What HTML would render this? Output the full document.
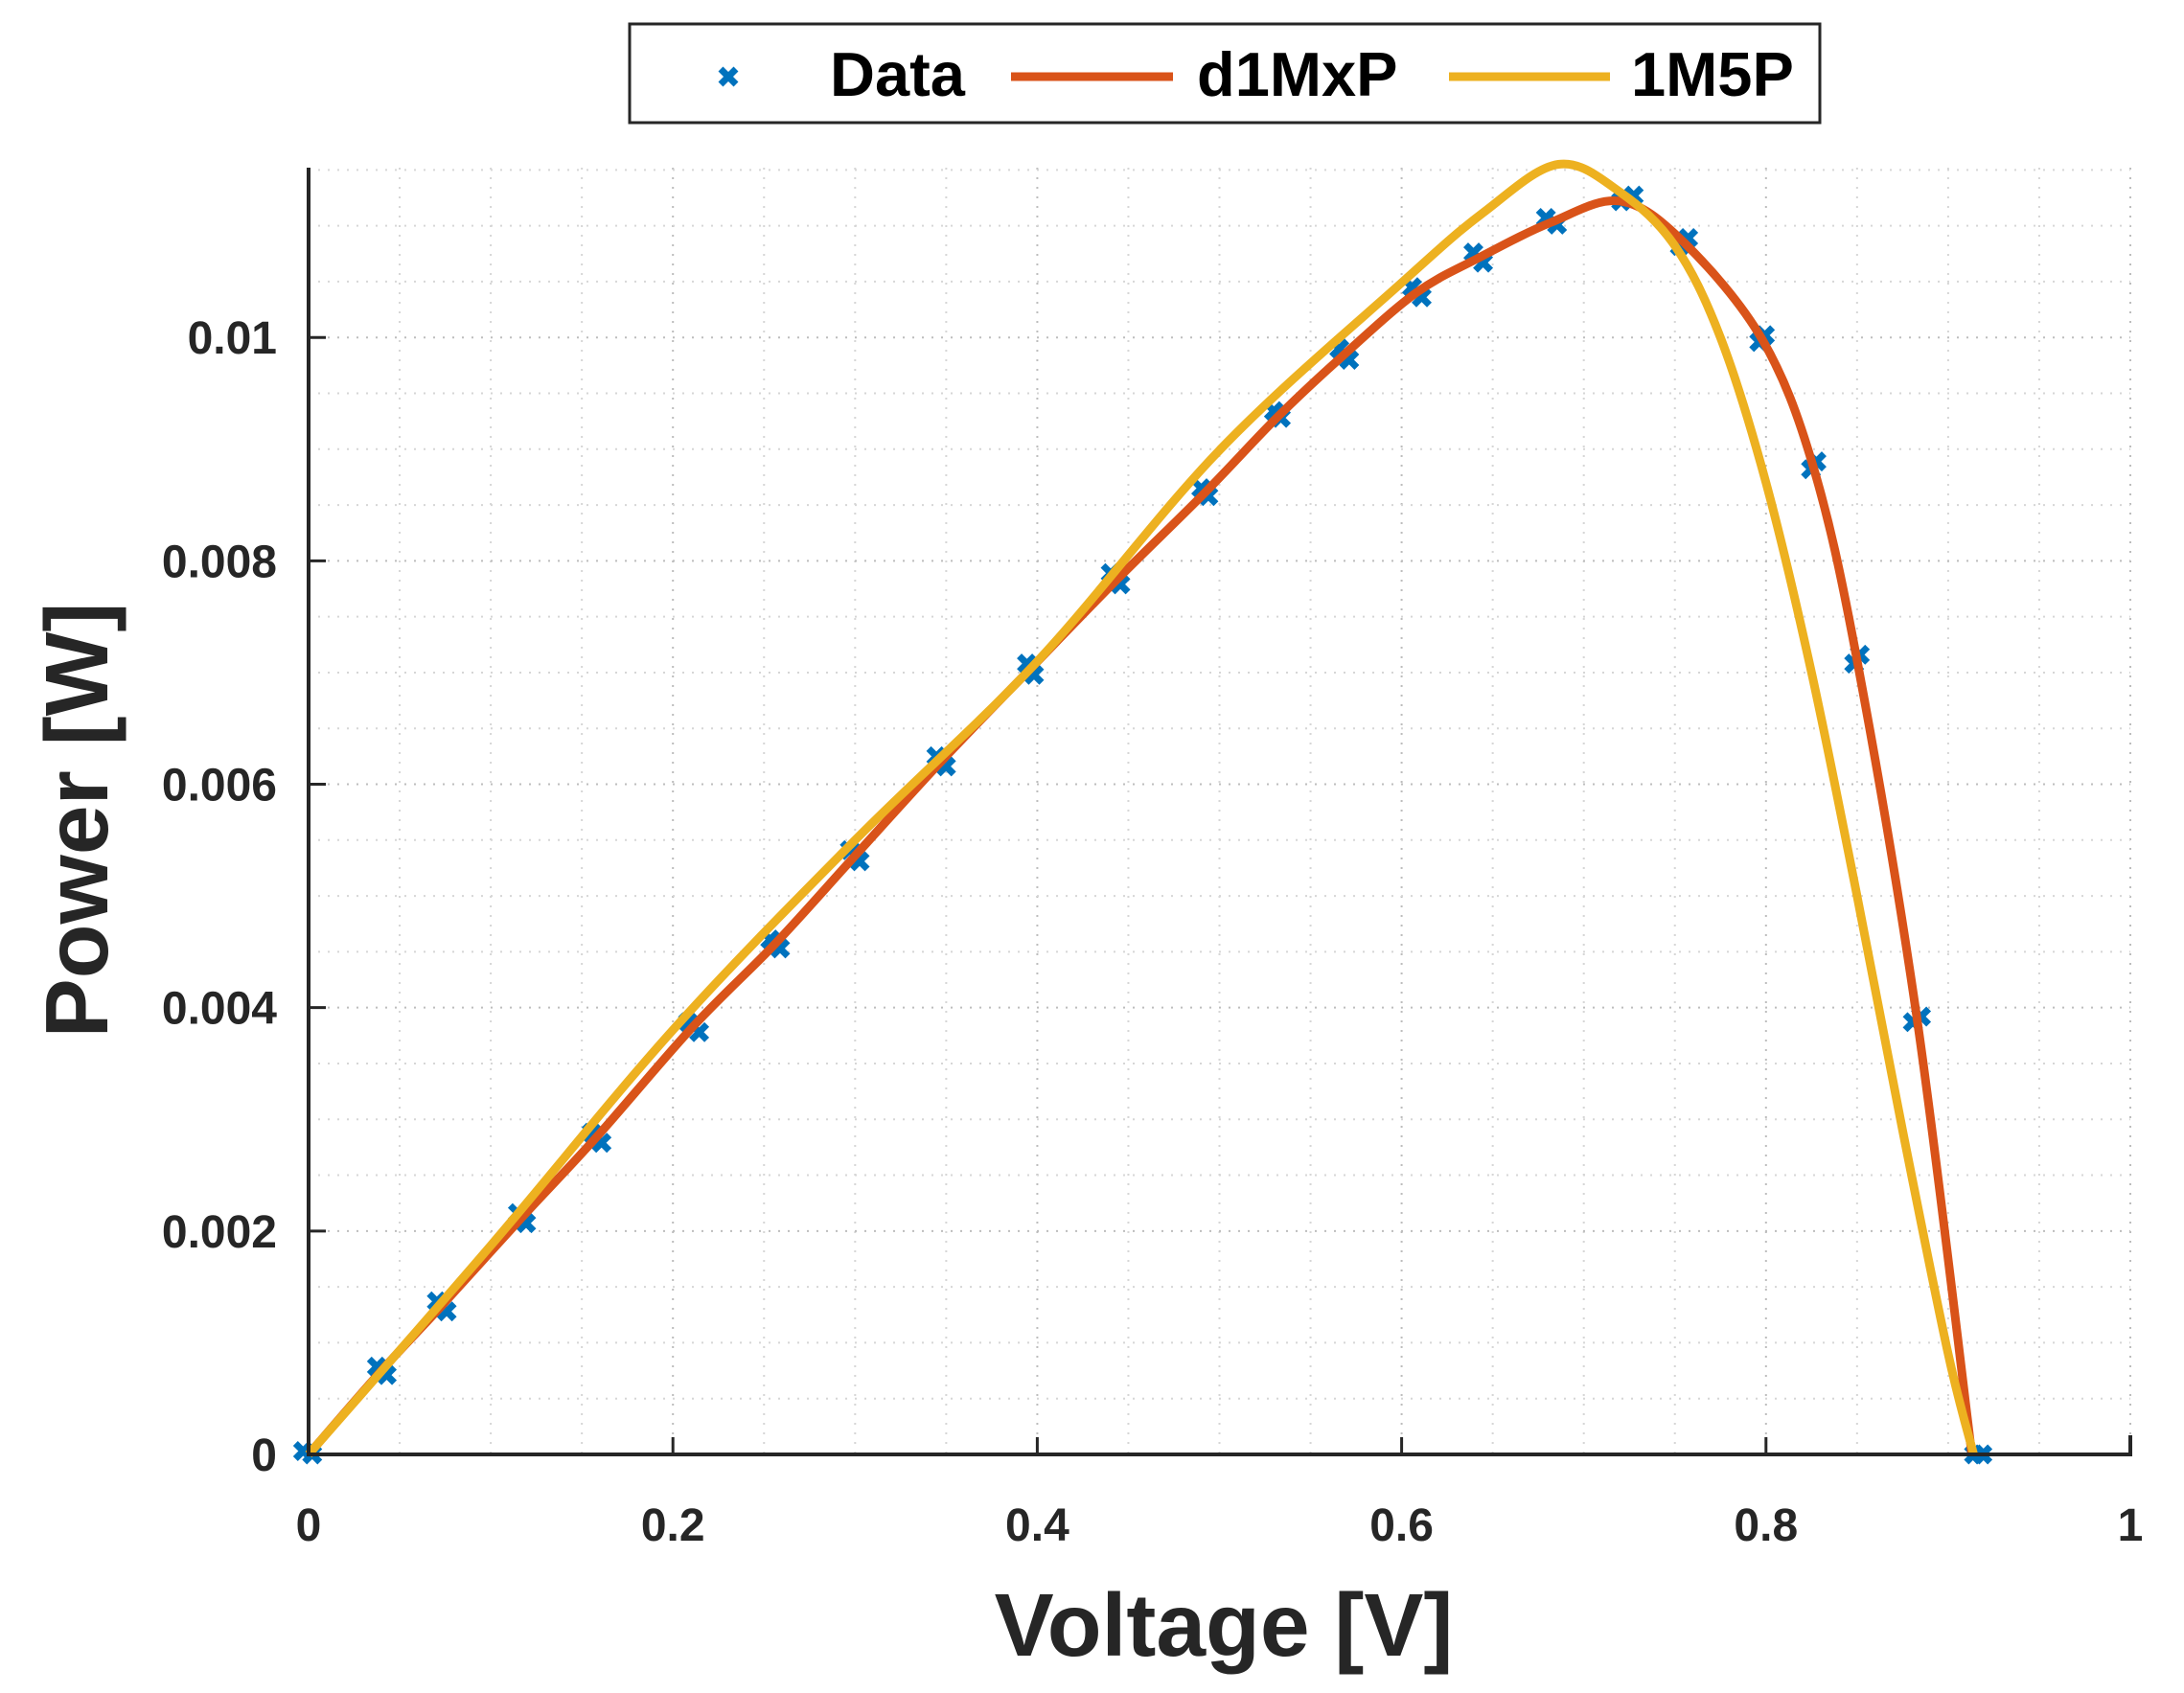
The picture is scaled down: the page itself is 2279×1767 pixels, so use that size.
<!DOCTYPE html>
<html><head><meta charset="utf-8"><style>
html,body{margin:0;padding:0;background:#fff;}
svg{display:block;font-family:"Liberation Sans",Arial,sans-serif;font-weight:bold;}
</style></head><body>
<svg id="chart" width="2279" height="1767" viewBox="0 0 2279 1767" xmlns="http://www.w3.org/2000/svg">
<g id="grid"></g>
<g id="series"></g>
<g id="axes"></g>
<text x="0" y="0" transform="translate(112,856) rotate(-90)" font-size="93" text-anchor="middle" fill="#262626">Power [W]</text>
<text x="1277" y="1728" font-size="93" text-anchor="middle" fill="#262626">Voltage [V]</text>
<g>
<rect x="657" y="25" width="1242" height="103" fill="#fff" stroke="#262626" stroke-width="3"/>
<g>
<path d="M752,72 L768,88 M768,72 L752,88" stroke="#0072BD" stroke-width="7"/>
<text x="866" y="100" font-size="65" fill="#000">Data</text></g>
<g>
<line x1="1055" y1="80" x2="1224" y2="80" stroke="#D95319" stroke-width="9"/>
<text x="1249" y="100" font-size="65" fill="#000">d1MxP</text></g>
<g>
<line x1="1512" y1="80" x2="1680" y2="80" stroke="#EDB120" stroke-width="9"/>
<text x="1702" y="100" font-size="65" fill="#000">1M5P</text></g>
</g>
</svg>
<script>
const xTicks=[0,0.2,0.4,0.6,0.8,1];
const xTickLabels=["0","0.2","0.4","0.6","0.8","1"];
const yTicks=[0,0.002,0.004,0.006,0.008,0.01];
const yTickLabels=["0","0.002","0.004","0.006","0.008","0.01"];
const dataV=[-0.003,0.002,0.0375,0.0429,0.0704,0.0758,0.1149,0.1194,0.1554,0.1608,0.2083,0.2144,0.2534,0.2588,0.2971,0.3025,0.3446,0.3499,0.3943,0.3982,0.4403,0.4456,0.49,0.4939,0.5299,0.5337,0.5658,0.5712,0.6057,0.611,0.6394,0.6447,0.6792,0.6853,0.7205,0.7274,0.7527,0.7573,0.7963,0.7994,0.8247,0.8277,0.8484,0.8515,0.8806,0.8851,0.9142,0.9188];
const dataP=[0.00003,0,0.000786,0.000711,0.00137,0.00128,0.00216,0.00207,0.00288,0.00279,0.00387,0.00378,0.00461,0.00453,0.00541,0.00531,0.00625,0.00616,0.00708,0.00698,0.00789,0.00779,0.00865,0.00858,0.00934,0.00928,0.0099,0.0098,0.01045,0.01036,0.01076,0.01067,0.01107,0.01101,0.01122,0.01127,0.01082,0.01089,0.00996,0.01002,0.00882,0.00889,0.00708,0.00716,0.00387,0.00392,0,0];
const d1V=[0,0.04,0.073,0.117,0.158,0.211,0.256,0.3,0.347,0.396,0.443,0.492,0.532,0.568,0.608,0.642,0.682,0.72,0.755,0.798,0.826,0.85,0.883,0.913];
const d1P=[0,0.00075,0.00133,0.00212,0.00284,0.00383,0.00457,0.00536,0.0062,0.00703,0.00782,0.00861,0.00929,0.00984,0.0104,0.01071,0.01103,0.01122,0.01085,0.00998,0.00884,0.00711,0.00389,0];
const m5V=[0,0.1,0.2,0.3,0.4,0.5,0.6,0.645,0.686,0.72,0.75,0.775,0.8,0.825,0.85,0.875,0.9,0.914];
const m5P=[0,0.00187,0.0038,0.0055,0.0071,0.00899,0.01049,0.01112,0.01155,0.0113,0.01082,0.01,0.0087,0.007,0.005,0.0029,0.0009,0];

const X0=322,X1=2223,Y0=1518,YT=175,YMAX=0.01152;
const sx=v=>X0+(X1-X0)*v;
const sy=p=>Y0-(Y0-YT)*p/YMAX;
const NS="http://www.w3.org/2000/svg";
const mk=(t,a,parent)=>{const e=document.createElementNS(NS,t);for(const k in a)e.setAttribute(k,a[k]);parent.appendChild(e);return e;};
const grid=document.getElementById('grid'),axes=document.getElementById('axes'),series=document.getElementById('series');

for(let i=1;i<=20;i++){const v=i*0.05;const maj=i%4===0;
 const l=mk('line',{x1:sx(v),x2:sx(v),y1:YT,y2:Y0,stroke:maj?'#bdbdbd':'#d6d6d6','stroke-width':2,'stroke-dasharray':'2,8'},grid);
 
 }
for(let i=1;i*0.0005<=YMAX;i++){const p=i*0.0005;const maj=i%4===0;
 const l=mk('line',{x1:X0,x2:X1,y1:sy(p),y2:sy(p),stroke:maj?'#bdbdbd':'#d6d6d6','stroke-width':2,'stroke-dasharray':'2,8'},grid);
 
 }

const xa=mk('path',{d:`M${X0},${YT} L${X0},${Y0} L${X1},${Y0} L${X1},${Y0-20}`,fill:'none',stroke:'#262626','stroke-width':4},axes);


xTicks.forEach((v,i)=>{
 mk('line',{x1:sx(v),x2:sx(v),y1:Y0,y2:Y0-18,stroke:'#262626','stroke-width':3},axes);
 const t=mk('text',{x:sx(v),y:1608,'font-size':48,'text-anchor':'middle',fill:'#262626'},axes);
 t.textContent=xTickLabels[i];
 
 });
yTicks.forEach((p,i)=>{
 mk('line',{x1:X0,x2:X0+18,y1:sy(p),y2:sy(p),stroke:'#262626','stroke-width':3},axes);
 const t=mk('text',{x:289,y:sy(p)+17,'font-size':48,'text-anchor':'end',fill:'#262626'},axes);
 t.textContent=yTickLabels[i];
 
 });

function smooth(V,P){const pts=V.map((v,i)=>[sx(v),sy(P[i])]);let d=`M${pts[0][0]},${pts[0][1]}`;
 for(let i=0;i<pts.length-1;i++){const p0=pts[Math.max(0,i-1)],p1=pts[i],p2=pts[i+1],p3=pts[Math.min(pts.length-1,i+2)];
  const c1=[p1[0]+(p2[0]-p0[0])/6,p1[1]+(p2[1]-p0[1])/6],c2=[p2[0]-(p3[0]-p1[0])/6,p2[1]-(p3[1]-p1[1])/6];
  d+=` C${c1[0]},${c1[1]} ${c2[0]},${c2[1]} ${p2[0]},${p2[1]}`;}return d;}

const dots=mk('g',{},series);


dataV.forEach((v,i)=>{const x=sx(v),y=sy(dataP[i]);
 const m=mk('path',{d:`M${x-8},${y-8} L${x+8},${y+8} M${x+8},${y-8} L${x-8},${y+8}`,stroke:'#0072BD','stroke-width':7},dots);
 
 });
const r=mk('path',{d:smooth(d1V,d1P),fill:'none',stroke:'#D95319','stroke-width':9,'stroke-linejoin':'round'},series);


const y5=mk('path',{d:smooth(m5V,m5P),fill:'none',stroke:'#EDB120','stroke-width':9,'stroke-linejoin':'round'},series);


</script>
</body></html>
